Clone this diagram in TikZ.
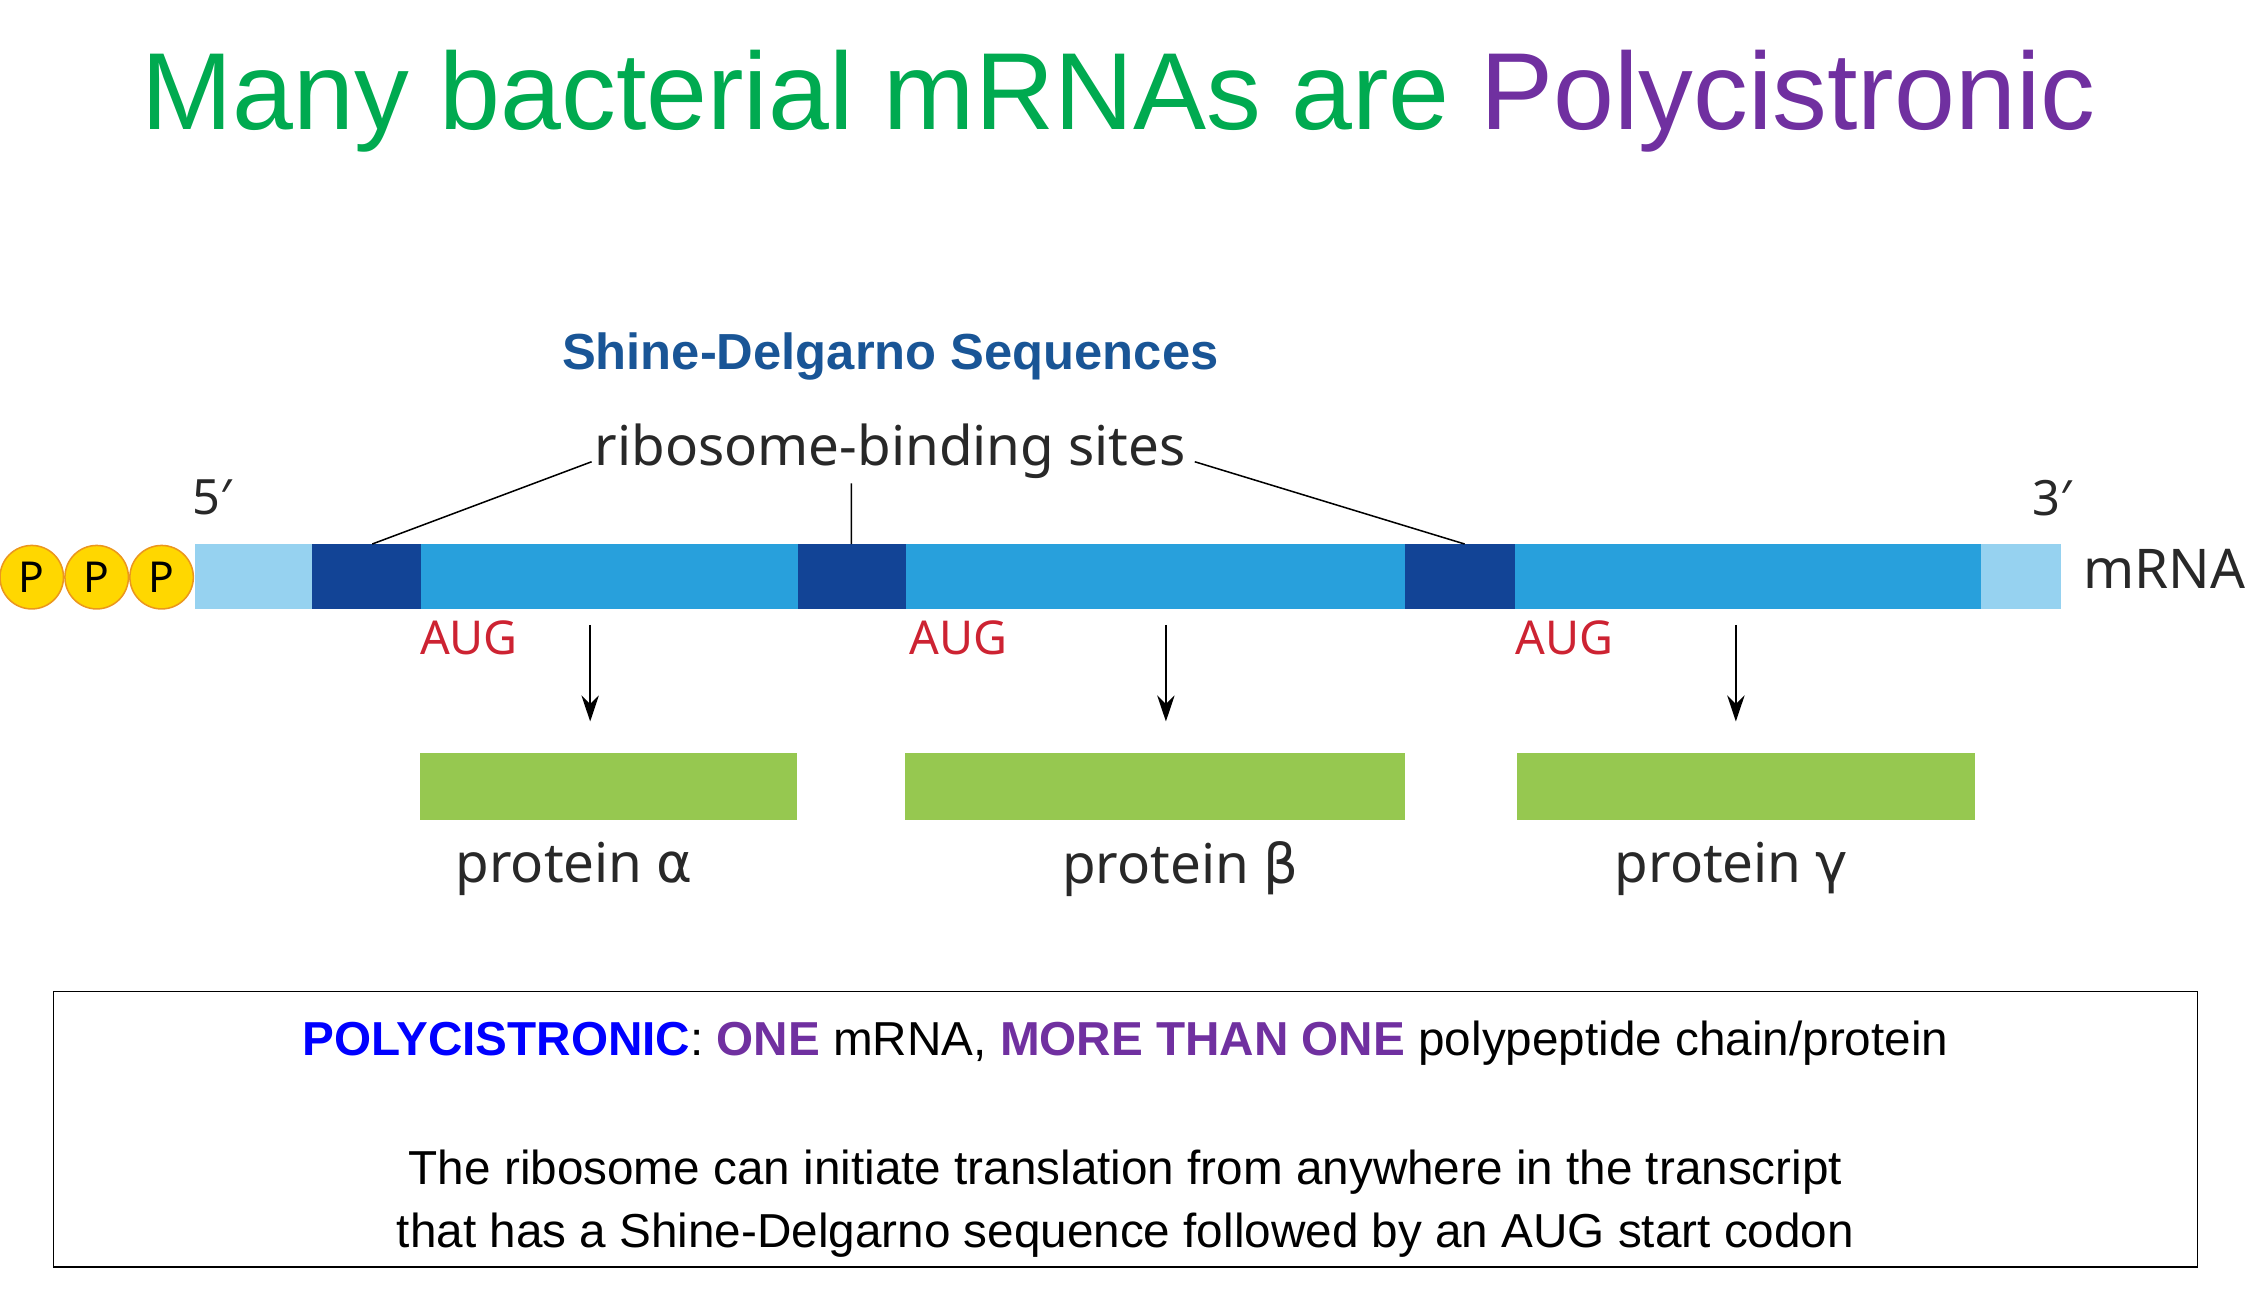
\documentclass[tikz,border=0pt]{standalone}
\usepackage{fontspec}
\setmainfont{Liberation Sans}
\newfontfamily\nfont{Noto Sans}
\newfontfamily\dfont{DejaVu Sans}
\definecolor{tgreen}{RGB}{0,170,80}
\definecolor{tpurple}{RGB}{112,48,160}
\definecolor{sdblue}{RGB}{25,85,150}
\definecolor{lblue}{RGB}{150,210,240}
\definecolor{mblue}{RGB}{40,160,220}
\definecolor{dblue}{RGB}{18,68,150}
\definecolor{pgreen}{RGB}{150,200,80}
\definecolor{augred}{RGB}{205,35,50}
\definecolor{txt}{RGB}{40,40,40}
\definecolor{pyel}{RGB}{255,215,0}
\definecolor{porange}{RGB}{235,150,30}
\newcommand{\fs}[1]{\fontsize{#1}{#1}\selectfont}
\tikzset{x=0.05cm,y=-0.05cm,
 seg/.style={inner sep=0,outer sep=0,draw=none},
 pcirc/.style={circle,fill=pyel,draw=porange,line width=1.5pt,minimum size=2.2cm,inner sep=0,font=\nfont\fs{42}},
 arr/.style={-{Stealth[length=0.9cm,width=0.6cm]},line width=2.5pt},
 lbl/.style={font=\nfont\fs{54},text=txt,inner sep=0},
 aug/.style={font=\nfont\fs{46},text=augred,inner sep=0}}
\usetikzlibrary{arrows.meta}
\begin{document}
\begin{tikzpicture}
\useasboundingbox (0,0) rectangle (1560,896);
\node (title) at (775,70) {\fs{108}\color{tgreen}Many bacterial mRNAs are \color{tpurple}Polycistronic};
\node (sd) at (617,247) {\fs{50}\bfseries\color{sdblue}Shine-Delgarno Sequences};
\node[lbl] (rbs) at (617,313) {ribosome-binding sites};
% mRNA
\fill[lblue] (135,377) rectangle (1428,422);
\fill[dblue] (216,377) rectangle (292,422);
\fill[mblue] (292,377) rectangle (553,422);
\fill[dblue] (553,377) rectangle (628,422);
\fill[mblue] (628,377) rectangle (974,422);
\fill[dblue] (974,377) rectangle (1050,422);
\fill[mblue] (1050,377) rectangle (1373,422);
\coordinate (s1) at (258,377);
\coordinate (s2) at (590,377);
\coordinate (s3) at (1015,377);
\coordinate (r1) at (410,320);
\coordinate (r2) at (590,335);
\coordinate (r3) at (828,320);
\draw[line width=1.5pt] (r1)--(s1) (r2)--(s2) (r3)--(s3);
\node[pcirc] (p3) at (112,400) {P};
\node[pcirc] (p2) at (67,400) {P};
\node[pcirc] (p1) at (22,400) {P};
\node[lbl,font=\nfont\fs{48}] (five) at (147,345) {5′};
\node[lbl,font=\nfont\fs{48}] (three) at (1422,345) {3′};
\node[lbl] (mrna) at (1500,394) {mRNA};
\node[aug] (a1) at (325,442) {AUG};
\node[aug] (a2) at (664,442) {AUG};
\node[aug] (a3) at (1084,442) {AUG};
\coordinate (t1) at (409,433); \coordinate (b1) at (409,500);
\coordinate (t2) at (808,433); \coordinate (b2) at (808,500);
\coordinate (t3) at (1203,433); \coordinate (b3) at (1203,500);
\draw[arr] (t1)--(b1); \draw[arr] (t2)--(b2); \draw[arr] (t3)--(b3);
\fill[pgreen] (291,522) rectangle (552,568);
\fill[pgreen] (627,522) rectangle (974,568);
\fill[pgreen] (1051,522) rectangle (1369,568);
\node[lbl] (pa) at (398,602) {protein {\dfont α}};
\node[lbl] (pb) at (818,602) {protein {\dfont β}};
\node[lbl] (pg) at (1200,602) {protein {\dfont γ}};
\draw[line width=1.2pt] (37,687) rectangle (1523,878);
\node (l1) at (780,723) {\fs{47}{\bfseries\color{blue}POLYCISTRONIC}: {\bfseries\color{tpurple}ONE} mRNA, {\bfseries\color{tpurple}MORE THAN ONE} polypeptide chain/protein};
\node (l2) at (780,812) {\fs{47}The ribosome can initiate translation from anywhere in the transcript};
\node (l3) at (780,856) {\fs{47}that has a Shine-Delgarno sequence followed by an AUG start codon};
\end{tikzpicture}
\end{document}
